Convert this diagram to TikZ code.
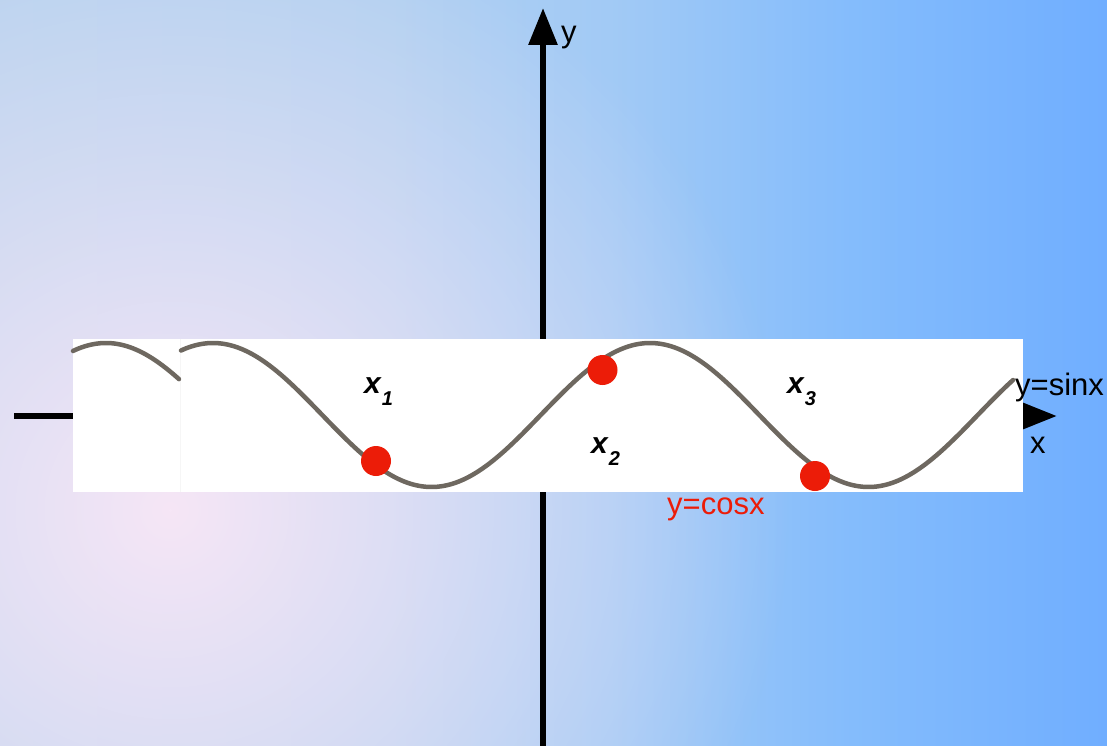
\documentclass[tikz,border=0pt]{standalone}
\usepackage{fontspec}
\setmainfont{Liberation Sans}
\usetikzlibrary{arrows.meta,fadings}
\definecolor{bgA}{RGB}{182,210,239}
\definecolor{bgB}{RGB}{176,208,241}
\definecolor{bgC}{RGB}{162,202,245}
\definecolor{bgD}{RGB}{132,188,252}
\definecolor{bgE}{RGB}{112,174,255}
\definecolor{glow}{RGB}{246,230,246}
\definecolor{curvecol}{RGB}{110,104,96}
\definecolor{dotred}{RGB}{236,28,8}
\pgfdeclarehorizontalshading{bgshade}{100bp}{color(0bp)=(bgA); color(25bp)=(bgA); color(42.5bp)=(bgB); color(52.5bp)=(bgC); color(63.5bp)=(bgD); color(75bp)=(bgE); color(100bp)=(bgE)}
\tikzfading[name=glowfade, inner color=transparent!0, outer color=transparent!100]
\tikzset{
  axisline/.style={line width=6pt, black},
  curveline/.style={line width=4.5pt, curvecol, line cap=round, line join=round},
  dot/.style={circle, fill=dotred, minimum size=30pt, inner sep=0pt},
  lbl/.style={anchor=base west, inner sep=0pt, font=\fontsize{31}{36}\selectfont},
  xlbl/.style={anchor=base west, inner sep=0pt, font=\fontsize{30}{36}\selectfont\bfseries\itshape},
}
\newcommand{\subx}[1]{\textit{x}\hspace{1pt}\raisebox{-12pt}{\fontsize{20}{24}\selectfont #1}}
\begin{document}
\begin{tikzpicture}[x=1pt,y=-1pt]
\useasboundingbox (0,0) rectangle (1107,746);
% background
\begin{scope}
\clip (0,0) rectangle (1107,746);
\shade[shading=bgshade] (0,0) rectangle (1107,746);
\fill[glow, path fading=glowfade] (170,510) circle[radius=620];
\end{scope}
% axes
\coordinate (yb) at (543,750);
\coordinate (yt) at (543,8);
\coordinate (xl) at (14,416);
\coordinate (xr) at (1057,416);
\draw[axisline, -{Triangle[length=37pt,width=28pt]}] (yb) -- (yt);
\draw[axisline, -{Triangle[length=34pt,width=25pt]}] (xl) -- (xr);
% white pictures
\fill[white] (73,339) rectangle (1023,492);
\draw[white!93!gray, line width=0.6pt] (180,339) -- (180,492);
% curves
\draw[curveline] plot[smooth, domain=73:179, samples=40] (\x, {415-72*cos((\x-543)/437*360)});
\draw[curveline] plot[smooth, domain=181:1013, samples=160] (\x, {415-72*cos((\x-650)/437*360)});
% dots
\node[dot] (d1) at (376,461) {};
\node[dot] (d2) at (602.5,370) {};
\node[dot] (d3) at (815,476) {};
% labels
\node[lbl] (ylab) at (561,43) {y};
\node[lbl] (xlab) at (1030,453) {x};
\node[lbl] (sinlab) at (1015,395) {y=sinx};
\node[lbl, text=dotred] (coslab) at (667,514) {y=cosx};
\node[xlbl] (x1) at (364,393) {\subx{1}};
\node[xlbl] (x2) at (591,453) {\subx{2}};
\node[xlbl] (x3) at (787,393) {\subx{3}};
\end{tikzpicture}
\end{document}
